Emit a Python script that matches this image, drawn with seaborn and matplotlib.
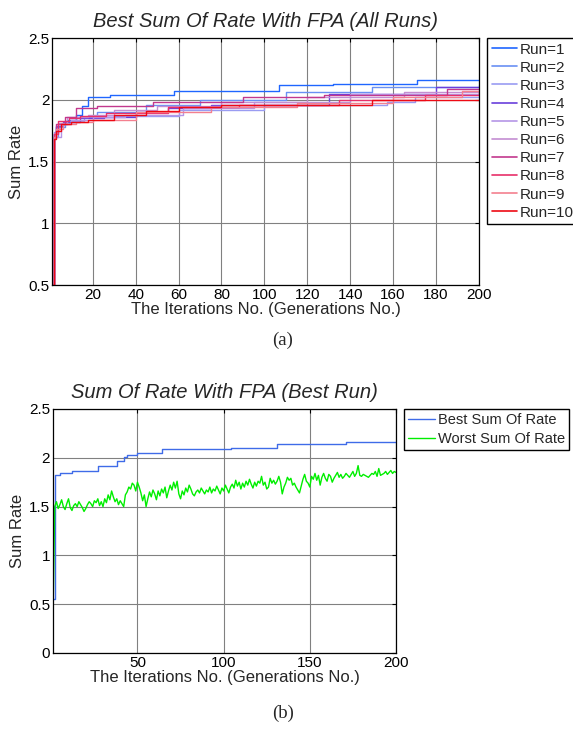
import matplotlib

matplotlib.use("Agg")
import matplotlib.pyplot as plt
import pandas as pd
import seaborn as sns

# ---- data (a): best sum rate per run, as step breakpoints (iteration, value)
run_iters = {
    "Run=1": [1, 2, 3, 5, 8, 12, 15, 18, 28, 58, 107, 132, 171, 200],
    "Run=2": [1, 2, 4, 7, 12, 22, 45, 70, 110, 150, 200],
    "Run=3": [1, 2, 4, 9, 16, 30, 60, 100, 157, 170, 200],
    "Run=4": [1, 2, 3, 6, 14, 25, 40, 55, 75, 130, 180, 200],
    "Run=5": [1, 2, 5, 10, 20, 35, 62, 95, 140, 200],
    "Run=6": [1, 2, 4, 8, 18, 30, 50, 80, 120, 165, 200],
    "Run=7": [1, 2, 3, 7, 12, 22, 48, 90, 128, 185, 200],
    "Run=8": [1, 2, 4, 9, 14, 26, 55, 88, 135, 175, 200],
    "Run=9": [1, 2, 3, 6, 12, 20, 40, 75, 115, 160, 192, 200],
    "Run=10": [1, 2, 3, 5, 10, 18, 30, 45, 60, 80, 150, 200],
}
run_values = {
    "Run=1": [0.5, 1.72, 1.78, 1.80, 1.84, 1.88, 1.95, 2.02, 2.04, 2.07, 2.12, 2.13, 2.16, 2.16],
    "Run=2": [0.5, 1.70, 1.78, 1.82, 1.86, 1.90, 1.96, 2.00, 2.06, 2.10, 2.12],
    "Run=3": [0.5, 1.74, 1.80, 1.83, 1.86, 1.87, 1.92, 1.96, 1.98, 2.02, 2.03],
    "Run=4": [0.5, 1.72, 1.79, 1.82, 1.85, 1.86, 1.90, 1.93, 1.96, 2.05, 2.10, 2.10],
    "Run=5": [0.5, 1.70, 1.80, 1.84, 1.86, 1.88, 1.93, 1.98, 2.05, 2.09],
    "Run=6": [0.5, 1.73, 1.81, 1.86, 1.88, 1.92, 1.95, 1.98, 2.02, 2.06, 2.07],
    "Run=7": [0.5, 1.70, 1.80, 1.86, 1.93, 1.95, 1.98, 2.02, 2.04, 2.09, 2.09],
    "Run=8": [0.5, 1.72, 1.83, 1.85, 1.87, 1.89, 1.94, 1.96, 2.00, 2.04, 2.06],
    "Run=9": [0.5, 1.70, 1.76, 1.80, 1.82, 1.84, 1.90, 1.94, 1.97, 2.02, 2.07, 2.07],
    "Run=10": [0.5, 1.68, 1.75, 1.80, 1.82, 1.84, 1.88, 1.91, 1.94, 1.96, 2.00, 2.00],
}
run_colors = {
    "Run=1": "#1f66ff",
    "Run=2": "#6a90f4",
    "Run=3": "#9a9cf2",
    "Run=4": "#6a3fdc",
    "Run=5": "#b596e6",
    "Run=6": "#c48ed2",
    "Run=7": "#c2388e",
    "Run=8": "#e8306a",
    "Run=9": "#f4808f",
    "Run=10": "#ee0a14",
}

# ---- data (b): best run (step breakpoints) and worst run (every iteration)
best_iters = [1, 2, 5, 12, 27, 38, 42, 44, 50, 64, 104, 131, 171, 200]
best_values = [0.55, 1.82, 1.84, 1.865, 1.92, 1.97, 2.01, 2.03, 2.05, 2.09, 2.10, 2.14, 2.16, 2.16]
worst_values = [
    0.38, 1.50, 1.55, 1.48, 1.52, 1.57, 1.50, 1.47, 1.53, 1.58,
    1.49, 1.46, 1.51, 1.53, 1.50, 1.55, 1.52, 1.49, 1.45, 1.48,
    1.52, 1.55, 1.53, 1.50, 1.56, 1.54, 1.58, 1.51, 1.55, 1.50,
    1.58, 1.54, 1.62, 1.57, 1.66, 1.60, 1.55, 1.58, 1.52, 1.56,
    1.53, 1.50, 1.62, 1.65, 1.70, 1.68, 1.74, 1.72, 1.66, 1.75,
    1.70, 1.64, 1.56, 1.62, 1.50, 1.58, 1.65, 1.60, 1.67, 1.63,
    1.57, 1.66, 1.61, 1.68, 1.64, 1.70, 1.59, 1.66, 1.72, 1.67,
    1.75, 1.69, 1.76, 1.63, 1.58, 1.66, 1.62, 1.69, 1.65, 1.72,
    1.68, 1.63, 1.61, 1.65, 1.67, 1.64, 1.69, 1.66, 1.63, 1.67,
    1.65, 1.70, 1.64, 1.68, 1.66, 1.71, 1.67, 1.63, 1.69, 1.66,
    1.72, 1.68, 1.64, 1.70, 1.73, 1.69, 1.77, 1.71, 1.75, 1.68,
    1.74, 1.70, 1.76, 1.72, 1.78, 1.73, 1.69, 1.75, 1.71, 1.76,
    1.74, 1.81, 1.72, 1.75, 1.68, 1.70, 1.79, 1.74, 1.77, 1.73,
    1.76, 1.81, 1.75, 1.63, 1.70, 1.74, 1.80, 1.77, 1.79, 1.72,
    1.74, 1.70, 1.67, 1.64, 1.71, 1.78, 1.83, 1.76, 1.74, 1.70,
    1.81, 1.78, 1.84, 1.77, 1.82, 1.72, 1.80, 1.84, 1.79, 1.76,
    1.83, 1.81, 1.75, 1.79, 1.82, 1.85, 1.80, 1.83, 1.79, 1.81,
    1.84, 1.82, 1.80, 1.83, 1.86, 1.81, 1.84, 1.92, 1.82, 1.81,
    1.83, 1.82, 1.81, 1.80, 1.82, 1.84, 1.83, 1.86, 1.81, 1.89,
    1.82, 1.83, 1.84, 1.86, 1.83, 1.85, 1.87, 1.84, 1.86, 1.85,
]
worst_iters = list(range(1, len(worst_values) + 1))

sns.set_theme(style="white")
plt.rcParams["font.family"] = ["Liberation Sans", "DejaVu Sans"]
plt.rcParams["xtick.direction"] = "in"
plt.rcParams["ytick.direction"] = "in"


def style_axes(ax):
    ax.grid(True, color="#808080", linewidth=0.8)
    for s in ax.spines.values():
        s.set_color("black")
        s.set_linewidth(0.9)
    ax.tick_params(axis="both", which="both", labelsize=11, length=3, width=0.8,
                   top=True, right=True, pad=2, colors="black")


fig = plt.figure(figsize=(5.73, 7.51), dpi=100)

# ---- (a)
ax1 = fig.add_axes([0.0908, 0.6205, 0.745, 0.3289])
df_runs = pd.DataFrame(
    [(name, it, v) for name in run_iters for it, v in zip(run_iters[name], run_values[name])],
    columns=["run", "iteration", "rate"],
)
sns.lineplot(data=df_runs, x="iteration", y="rate", hue="run", palette=run_colors,
             estimator=None, drawstyle="steps-post", linewidth=1.0, ax=ax1, legend=False)
ax1.set_xlim(1, 200)
ax1.set_ylim(0.5, 2.5)
ax1.set_xticks(range(20, 201, 20))
ax1.set_yticks([0.5, 1, 1.5, 2, 2.5])
ax1.set_yticklabels(["0.5", "1", "1.5", "2", "2.5"])
style_axes(ax1)
ax1.set_xlabel("The Iterations No. (Generations No.)", fontsize=12, labelpad=0)
ax1.set_ylabel("Sum Rate", fontsize=12, labelpad=3)
ax1.set_title("Best Sum Of Rate With FPA (All Runs)", fontsize=14.5, style="italic", pad=8)
handles = [plt.Line2D([], [], color=run_colors[n], linewidth=1.2) for n in run_iters]
fig.legend(handles, list(run_iters), loc="upper left", bbox_to_anchor=(487 / 573, 1 - 38 / 751),
           fontsize=11, frameon=True, fancybox=False, edgecolor="black", framealpha=1,
           handlelength=1.65, handletextpad=0.2, labelspacing=0.27, borderpad=0.3,
           borderaxespad=0)
fig.text(283 / 573, 1 - 340 / 751, "(a)", ha="center", va="center", fontsize=13.5,
         family="Liberation Serif")

# ---- (b)
ax2 = fig.add_axes([0.0925, 0.1305, 0.5986, 0.3249])
df_best = pd.DataFrame({"iteration": best_iters, "rate": best_values})
df_worst = pd.DataFrame({"iteration": worst_iters, "rate": worst_values})
sns.lineplot(data=df_best, x="iteration", y="rate", color="#3f6be8", drawstyle="steps-post",
             linewidth=1.0, ax=ax2, label="Best Sum Of Rate")
sns.lineplot(data=df_worst, x="iteration", y="rate", color="#00ee00", linewidth=1.0, ax=ax2,
             label="Worst Sum Of Rate")
ax2.set_xlim(1, 200)
ax2.set_ylim(0, 2.5)
ax2.set_xticks([50, 100, 150, 200])
ax2.set_yticks([0, 0.5, 1, 1.5, 2, 2.5])
ax2.set_yticklabels(["0", "0.5", "1", "1.5", "2", "2.5"])
style_axes(ax2)
ax2.set_xlabel("The Iterations No. (Generations No.)", fontsize=12, labelpad=0)
ax2.set_ylabel("Sum Rate", fontsize=12, labelpad=3)
ax2.set_title("Sum Of Rate With FPA (Best Run)", fontsize=14.5, style="italic", pad=8)
ax2.legend(loc="upper left", bbox_to_anchor=(404 / 573, 1 - 409 / 751),
           bbox_transform=fig.transFigure, fontsize=10.5, frameon=True, fancybox=False,
           edgecolor="black", framealpha=1, handlelength=1.8, handletextpad=0.2,
           labelspacing=0.3, borderpad=0.3, borderaxespad=0)
fig.text(283 / 573, 1 - 713 / 751, "(b)", ha="center", va="center", fontsize=13.5,
         family="Liberation Serif")

fig.savefig("out.png", dpi=100)
plt.close(fig)
